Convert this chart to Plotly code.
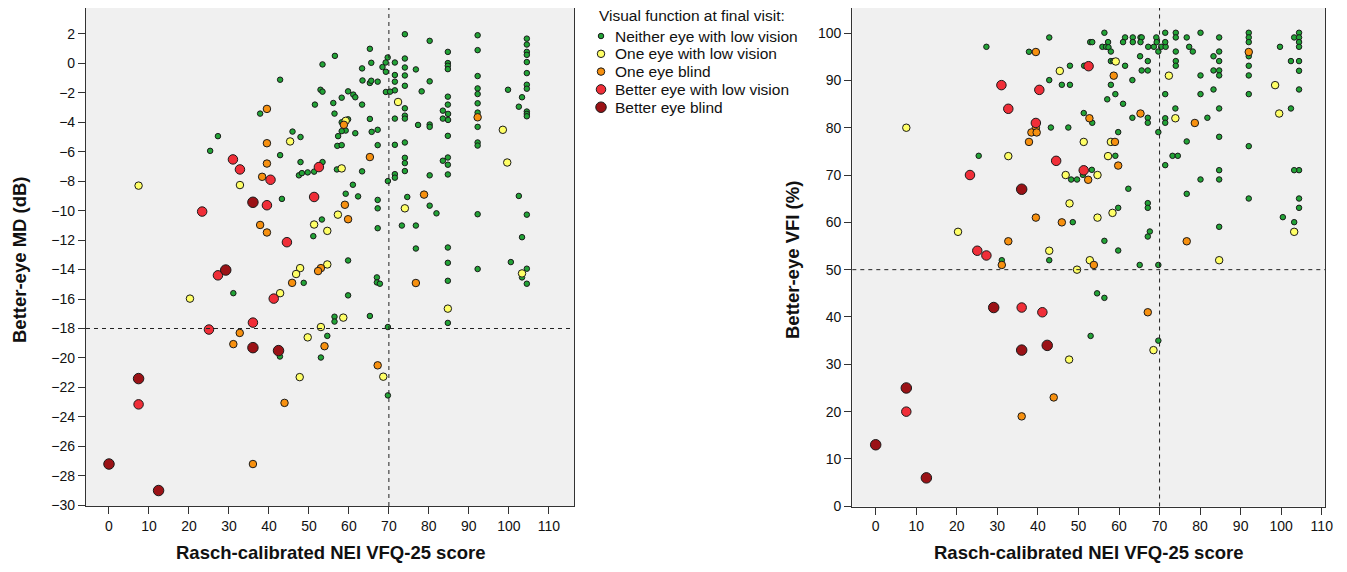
import plotly.graph_objects as go

# ---------------- data: (VFQ-25 score, better-eye MD dB) ----------------
MD_NEITHER = [
    (56.5, 0.51), (53.4, -0.07), (42.8, -1.11), (52.9, -1.79), (53.4, -1.92), (51.5, -2.8), (56.1, -2.69),
    (56.4, -3.41), (37.8, -3.41), (45.9, -4.63), (47.9, -5.0), (27.25, -4.94), (25.3, -5.94), (42.8, -6.23),
    (47.9, -6.7), (53.4, -6.7), (47.5, -7.6), (48.25, -7.45), (49.7, -7.4), (51.3, -7.35), (57.0, -7.2),
    (57.1, -5.6), (57.3, -4.94), (43.25, -9.2), (53.25, -10.6), (51.1, -11.73),
    (31.1, -15.6), (48.7, -14.9), (56.4, -17.2), (56.4, -17.53), (54.6, -18.5), (42.75, -19.9), (53.0, -19.97),
    (65.25, 0.99), (74.0, 1.98), (80.2, 1.53), (92.2, 1.91), (92.2, 0.9),
    (104.5, 1.68), (104.5, 1.28), (104.5, 0.78), (104.5, 0.58), (104.5, 0.09), (104.5, -0.66), (104.5, -1.45), (104.5, -1.72),
    (84.75, 0.78), (84.75, 0.02), (84.75, -0.16), (84.75, -0.39),
    (65.6, 0.04), (63.3, -0.34), (69.7, 0.4), (69.2, 0.06), (68.4, -0.25), (69.25, -0.57), (71.5, 0.06), (74.0, 0.33),
    (76.75, -0.41), (71.5, -0.79), (71.5, -1.24), (71.5, -1.83), (74.0, -0.28), (74.0, -0.82), (74.0, -1.52),
    (63.4, -1.16), (65.25, -1.33), (65.6, -1.18), (67.2, -1.24), (80.2, -1.22), (69.25, -1.94), (70.3, -1.92),
    (78.2, -1.9), (59.8, -1.9), (61.1, -2.12), (61.6, -2.3), (58.2, -2.33), (63.3, -2.8),
    (74.0, -3.05), (74.0, -3.55), (74.0, -3.75), (71.5, -3.75), (65.25, -3.77), (59.8, -3.8), (58.2, -4.0),
    (59.2, -4.56), (58.2, -4.6), (58.2, -5.55), (61.6, -4.74), (65.7, -4.65), (67.2, -4.51), (67.2, -5.55),
    (71.5, -5.53), (74.0, -5.37), (77.3, -4.18), (80.2, -4.15), (80.2, -4.31), (83.5, -3.21), (84.8, -3.43),
    (83.5, -3.75), (84.8, -3.84), (84.75, -2.26), (84.75, -2.8), (84.75, -4.92),
    (92.2, -0.86), (92.2, -1.7), (92.2, -2.08), (92.2, -2.71), (92.2, -3.34), (92.2, -4.31), (92.2, -5.37), (92.2, -5.58),
    (99.8, -1.79), (103.3, -2.3), (102.5, -2.94), (104.5, -3.27), (104.5, -3.43), (104.5, -3.59),
    (102.5, -9.0), (104.5, -10.27), (103.3, -11.8), (92.2, -10.24),
    (84.75, -6.39), (84.75, -6.88), (84.75, -7.54), (83.5, -6.61), (80.2, -7.6),
    (74.0, -6.41), (74.0, -6.77), (74.0, -7.31), (71.5, -7.52), (71.5, -7.76), (69.75, -7.99), (63.3, -7.33),
    (61.0, -8.24), (59.2, -8.85), (62.3, -9.03), (67.2, -9.27), (67.2, -9.84), (67.2, -11.19),
    (74.6, -9.07), (80.2, -9.66), (81.9, -10.18), (73.25, -11.01), (76.75, -11.01), (76.75, -12.57), (84.75, -12.5),
    (59.8, -13.38), (84.75, -13.54), (92.2, -13.96), (100.5, -13.49), (103.3, -14.53), (104.5, -13.94),
    (104.5, -14.96), (84.75, -14.76), (67.0, -14.53), (67.0, -14.87), (67.75, -14.96), (59.8, -15.75),
    (65.25, -17.15), (69.75, -17.9), (84.75, -17.62), (69.75, -22.54),
]
MD_ONE_LV = [
    (45.3, -5.3), (7.4, -8.3), (32.75, -8.26), (57.25, -10.27), (51.3, -10.94), (54.6, -11.37), (20.25, -15.97),
    (47.8, -13.9), (46.8, -14.3), (54.6, -13.65), (42.8, -15.6), (53.0, -17.9), (49.7, -18.6), (47.7, -21.3),
    (72.3, -2.62), (59.2, -3.9), (98.5, -4.51), (99.6, -6.73), (58.2, -7.13), (74.0, -9.84), (103.3, -14.26),
    (58.6, -17.26), (84.75, -16.65), (68.6, -21.27),
]
MD_ONE_BLIND = [
    (39.5, -3.09), (39.5, -5.42), (39.5, -6.8), (38.3, -7.7), (37.8, -10.97), (39.5, -11.48), (45.8, -14.9),
    (53.0, -13.9), (52.3, -14.1), (32.7, -18.3), (31.1, -19.06), (53.9, -19.2), (43.9, -23.05), (36.0, -27.2),
    (58.75, -4.17), (92.2, -3.66), (65.25, -6.36), (59.0, -9.6), (59.8, -10.58), (78.8, -8.91), (76.75, -14.91),
    (67.2, -20.5),
]
MD_BETTER_LV = [
    (31.0, -6.52), (32.75, -7.2), (40.4, -7.9), (52.5, -7.04), (39.5, -9.63), (51.3, -9.07), (23.3, -10.06),
    (44.5, -12.14), (27.25, -14.39), (41.2, -15.97), (36.0, -17.6), (25.0, -18.07), (7.4, -23.15),
]
MD_BETTER_BLIND = [
    (0.0, -27.2), (7.4, -21.4), (12.4, -29.0), (29.2, -14.03), (36.0, -9.43), (36.0, -19.3), (42.4, -19.5),
]

# ---------------- data: (VFQ-25 score, better-eye VFI %) ----------------
VFI_NEITHER = [
    (42.8, 99.07), (27.3, 97.1), (37.8, 96.05), (47.9, 93.1), (51.4, 93.1), (42.8, 90.06), (45.9, 89.07),
    (47.9, 89.07), (43.2, 80.04), (47.5, 80.04), (51.3, 83.1), (25.4, 74.06), (48.2, 69.05), (49.65, 69.05),
    (51.1, 70.04), (48.6, 60.04), (31.1, 52.0), (42.8, 52.0),
    (56.4, 100.07), (52.9, 98.09), (53.4, 98.09), (57.3, 98.09), (55.9, 97.1), (56.8, 97.1), (57.4, 97.0), (58.0, 96.1),
    (61.5, 99.08), (63.4, 99.08), (65.3, 99.08), (65.6, 99.08), (61.0, 98.09), (63.4, 98.09), (65.3, 98.09),
    (67.2, 97.1), (68.6, 97.1), (70.4, 97.1), (71.5, 97.1), (69.2, 99.08), (69.3, 98.09), (69.7, 96.1),
    (71.4, 100.07), (71.4, 98.09), (74.0, 100.07), (74.0, 99.08), (74.0, 96.1), (76.7, 99.08), (80.1, 100.07),
    (77.3, 97.1), (78.2, 96.1), (84.7, 99.08), (84.7, 96.1), (83.3, 95.1), (84.7, 94.08),
    (92.0, 100.07), (92.0, 99.08), (92.0, 98.09), (92.0, 95.1), (92.0, 93.09), (92.0, 91.05), (92.0, 87.1),
    (92.0, 76.1), (92.0, 65.04), (99.7, 97.1), (103.2, 99.08),
    (104.4, 100.07), (104.4, 99.08), (104.4, 98.09), (104.4, 97.1), (104.4, 94.08), (104.4, 92.03), (104.4, 88.08),
    (104.4, 71.03), (104.4, 65.04), (104.4, 63.07), (102.4, 94.08), (102.4, 84.07),
    (84.7, 84.07), (80.1, 91.05), (80.1, 87.1), (83.3, 92.1), (84.7, 92.1), (84.7, 91.05), (83.3, 88.08),
    (81.8, 82.1), (73.9, 84.07), (71.4, 82.0), (71.4, 81.04), (67.1, 82.1), (67.1, 81.04), (63.3, 82.1),
    (74.0, 94.08), (74.0, 93.09), (67.1, 94.08), (65.6, 92.1), (67.1, 92.1), (65.2, 95.1), (61.5, 93.09),
    (58.0, 94.08), (58.6, 94.08), (63.3, 90.06), (58.0, 89.07), (59.1, 87.1), (57.1, 86.0), (61.0, 85.06),
    (53.4, 81.04), (59.8, 79.07), (69.7, 79.07), (76.7, 77.1), (84.7, 78.08), (59.1, 74.06), (73.2, 74.06),
    (74.5, 74.06), (71.4, 72.09), (53.3, 71.1), (84.7, 71.03), (84.7, 69.06), (80.1, 69.06), (103.2, 71.03),
    (62.3, 67.1), (76.7, 66.03), (67.1, 64.06), (67.1, 63.07), (59.8, 63.07), (100.4, 61.1), (103.2, 60.04),
    (84.7, 59.06), (67.6, 58.07), (67.1, 57.0), (56.4, 56.09), (59.8, 54.05), (71.4, 87.1),
    (65.1, 51.0), (69.7, 51.0), (54.6, 45.0), (56.4, 44.04), (53.0, 36.0), (69.7, 35.0),
]
VFI_ONE_LV = [
    (45.4, 92.0), (7.55, 80.0), (51.3, 77.0), (32.7, 74.0), (46.85, 70.0), (47.8, 64.0), (20.3, 58.0),
    (42.8, 54.0), (49.65, 50.0), (52.8, 52.0), (47.7, 31.0), (59.2, 94.0), (72.3, 91.0), (98.5, 89.0),
    (99.5, 83.0), (73.9, 82.0), (58.0, 77.0), (57.3, 74.0), (54.7, 70.0), (58.4, 62.0), (54.7, 61.0),
    (103.2, 58.0), (84.7, 52.0), (68.5, 33.0),
]
VFI_ONE_BLIND = [
    (39.5, 96.0), (39.5, 80.0), (38.4, 79.0), (39.7, 79.0), (52.7, 82.0), (37.8, 77.0), (52.4, 69.0),
    (39.5, 61.0), (45.9, 60.0), (32.7, 56.0), (31.1, 51.0), (43.9, 23.0), (36.0, 19.0), (92.0, 96.0),
    (58.7, 91.0), (65.3, 83.0), (78.7, 81.0), (59.0, 77.0), (59.8, 72.0), (76.7, 56.0), (53.8, 51.0),
    (67.1, 41.0),
]
VFI_BETTER_LV = [
    (31.0, 89.0), (40.35, 88.0), (32.7, 84.0), (39.5, 81.0), (44.5, 73.0), (23.25, 70.0), (51.3, 71.0),
    (25.05, 54.0), (27.3, 53.0), (36.0, 42.0), (41.1, 41.0), (7.55, 20.0), (52.5, 93.0),
]
VFI_BETTER_BLIND = [
    (0.0, 13.0), (7.55, 25.0), (12.5, 6.0), (29.1, 42.0), (36.0, 67.0), (36.0, 33.0), (42.3, 34.0),
]

GROUP_NAMES = ["Neither eye with low vision", "One eye with low vision", "One eye blind",
               "Better eye with low vision", "Better eye blind"]
LEGEND_TITLE = "Visual function at final visit:"
X_TITLE = "Rasch-calibrated NEI VFQ-25 score"
MD_TITLE = "Better-eye MD (dB)"
VFI_TITLE = "Better-eye VFI (%)"
X_TICKS = list(range(0, 111, 10))
MD_TICKS = list(range(2, -31, -2))
VFI_TICKS = list(range(0, 101, 10))
MD_CUTOFF = -18
VFI_CUTOFF = 50
VFQ_CUTOFF = 70

# ---------------- styling / layout ----------------
OFF = 8                       # page body margin of the html page
W, H = 1347 - 2 * OFF, 572 - 2 * OFF
COLORS = ["#22a336", "#ffff66", "#f7900f", "#f02e38", "#9b1216"]
SIZES = [5.5, 7.5, 7.5, 9.5, 10.5]
FONT = "Arial, Liberation Sans, sans-serif"


def px(x):
    return (x - OFF) / W


def py(y):
    return 1 - (y - OFF) / H


L_X0, L_X1, L_TOP, L_BOT = 86, 574, 8, 506
R_X0, R_X1, R_TOP, R_BOT = 852.3, 1325, 8, 506.5

fig = go.Figure()
md_groups = [MD_NEITHER, MD_ONE_LV, MD_ONE_BLIND, MD_BETTER_LV, MD_BETTER_BLIND]
vfi_groups = [VFI_NEITHER, VFI_ONE_LV, VFI_ONE_BLIND, VFI_BETTER_LV, VFI_BETTER_BLIND]

for i, (name, pts) in enumerate(zip(GROUP_NAMES, md_groups)):
    fig.add_trace(go.Scatter(
        x=[p[0] for p in pts], y=[p[1] for p in pts], mode="markers", name=name,
        marker=dict(color=COLORS[i], size=SIZES[i], line=dict(color="#1a1a1a", width=1)),
        xaxis="x", yaxis="y", showlegend=False))
for i, (name, pts) in enumerate(zip(GROUP_NAMES, vfi_groups)):
    fig.add_trace(go.Scatter(
        x=[p[0] for p in pts], y=[p[1] for p in pts], mode="markers", name=name,
        marker=dict(color=COLORS[i], size=SIZES[i], line=dict(color="#1a1a1a", width=1)),
        xaxis="x2", yaxis="y2", showlegend=False))

axis_common = dict(showgrid=False, zeroline=False, showline=True, linecolor="#333333", linewidth=1.2,
                   ticks="outside", ticklen=7, tickcolor="#333333", tickwidth=1, automargin=False,
                   tickfont=dict(family=FONT, size=14, color="#111111"))

fig.update_layout(
    width=W, height=H, paper_bgcolor="white", plot_bgcolor="#f0f0f0",
    margin=dict(l=0, r=0, t=0, b=0),
    font=dict(family=FONT, size=14, color="#111111"),
    xaxis=dict(domain=[px(L_X0), px(L_X1)], range=[-5.75, 116.3], tickvals=X_TICKS, anchor="y",
               mirror=False, **axis_common),
    yaxis=dict(domain=[py(L_BOT), py(L_TOP)], range=[-30.05, 3.76], tickvals=MD_TICKS, anchor="x",
               mirror=True, **axis_common),
    xaxis2=dict(domain=[px(R_X0), px(R_X1)], range=[-5.77, 110.8], tickvals=X_TICKS, anchor="y2",
                mirror=False, **axis_common),
    yaxis2=dict(domain=[py(R_BOT), py(R_TOP)], range=[-0.05, 105.3], tickvals=VFI_TICKS, anchor="x2",
                mirror=True, **axis_common),
    showlegend=False,
)

title_font = dict(family=FONT, size=18.5, color="#111111")
legend_font = dict(family=FONT, size=15.5, color="#111111")
annos = [
    dict(text=LEGEND_TITLE, x=px(597), y=py(15), xanchor="left", yanchor="middle", font=legend_font),
    dict(text="<b>%s</b>" % X_TITLE, x=px((L_X0 + L_X1) / 2), y=0,
         xanchor="center", yanchor="bottom", font=title_font, borderpad=0),
    dict(text="<b>%s</b>" % X_TITLE, x=px((R_X0 + R_X1) / 2), y=0,
         xanchor="center", yanchor="bottom", font=title_font, borderpad=0),
    dict(text="<b>%s</b>" % MD_TITLE, x=px(19), y=py(260), textangle=-90,
         xanchor="center", yanchor="middle", font=title_font),
    dict(text="<b>%s</b>" % VFI_TITLE, x=px(792), y=py(260), textangle=-90,
         xanchor="center", yanchor="middle", font=title_font),
]
# legend: key circle + label per group
LEG_KEY_X, LEG_TEXT_X, LEG_Y0, LEG_DY = 601, 613, 36, 17.8
for i, name in enumerate(GROUP_NAMES):
    yy = LEG_Y0 + i * LEG_DY
    annos.append(dict(text=name, x=px(LEG_TEXT_X), y=py(yy), xanchor="left", yanchor="middle", font=legend_font))
    r = SIZES[i] / 2
    fig.add_shape(type="circle", xref="paper", yref="paper", xsizemode="pixel", ysizemode="pixel",
                  xanchor=px(LEG_KEY_X), yanchor=py(yy), x0=-r, x1=r, y0=-r, y1=r,
                  fillcolor=COLORS[i], line=dict(color="#1a1a1a", width=1))
for a in annos:
    fig.add_annotation(xref="paper", yref="paper", showarrow=False, **a)

dash_line = dict(color="#222222", width=1, dash="4px,4px")
fig.add_shape(type="line", xref="x", yref="paper", x0=VFQ_CUTOFF, x1=VFQ_CUTOFF,
              y0=py(L_BOT), y1=py(L_TOP), line=dash_line)
fig.add_shape(type="line", xref="paper", yref="y", x0=px(L_X0), x1=px(L_X1),
              y0=MD_CUTOFF, y1=MD_CUTOFF, line=dash_line)
fig.add_shape(type="line", xref="x2", yref="paper", x0=VFQ_CUTOFF, x1=VFQ_CUTOFF,
              y0=py(R_BOT), y1=py(R_TOP), line=dash_line)
fig.add_shape(type="line", xref="paper", yref="y2", x0=px(R_X0), x1=px(R_X1),
              y0=VFI_CUTOFF, y1=VFI_CUTOFF, line=dash_line)

fig.write_html("out.html")
